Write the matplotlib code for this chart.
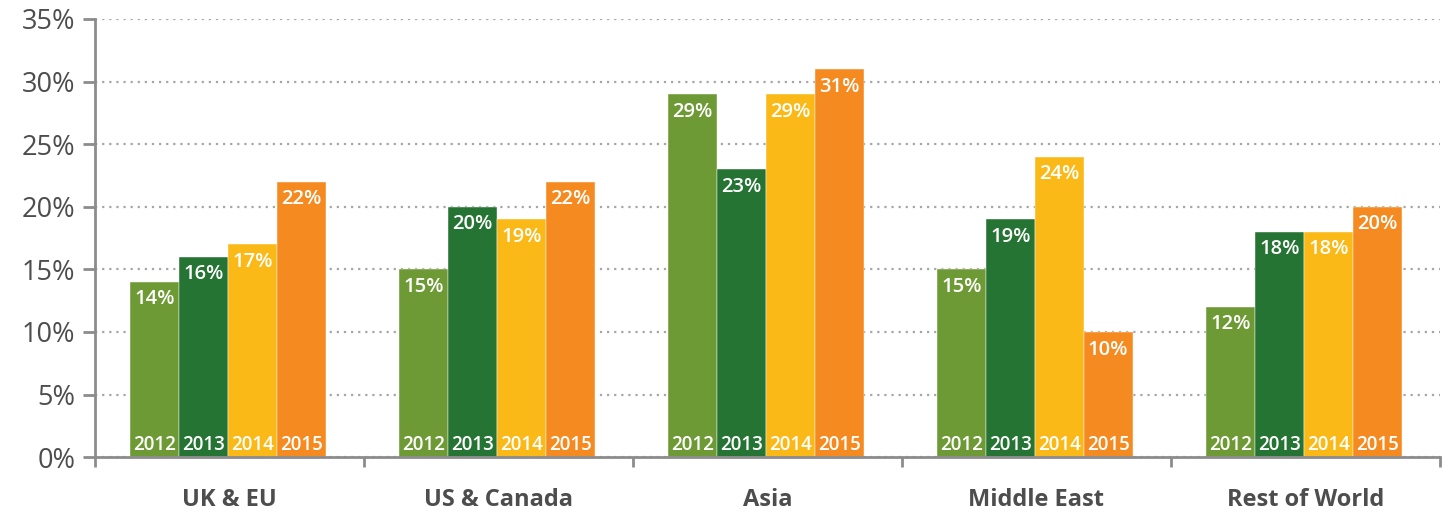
import matplotlib
matplotlib.use("Agg")
import matplotlib.pyplot as plt
import numpy as np

regions = ["UK & EU", "US & Canada", "Asia", "Middle East", "Rest of World"]
years = ["2012", "2013", "2014", "2015"]
share_2012 = [14, 15, 29, 15, 12]
share_2013 = [16, 20, 23, 19, 18]
share_2014 = [17, 19, 29, 24, 18]
share_2015 = [22, 22, 31, 10, 20]
colors = ["#6E9A35", "#267434", "#FBB917", "#F58A21"]

plt.rcParams["font.family"] = ["Open Sans", "DejaVu Sans"]

fig = plt.figure(figsize=(14.5, 5.12), dpi=100)
ax = fig.add_axes([0.0655, 0.107, 0.9275, 0.856])

series = [share_2012, share_2013, share_2014, share_2015]
x = np.arange(len(regions)) + 0.5
width = 0.182
offsets = (np.arange(4) - 1.5) * width - 0.006

for i, (vals, col) in enumerate(zip(series, colors)):
    bars = ax.bar(x + offsets[i], vals, width, color=col, zorder=2,
                  edgecolor="white", linewidth=0.3)
    for b, v in zip(bars, vals):
        cx = b.get_x() + b.get_width() / 2
        ax.text(cx, v - 0.6, f"{v}%", ha="center", va="top", color="white",
                fontsize=14.5, fontweight="semibold", zorder=3)
        ax.text(cx, 0.2, years[i], ha="center", va="bottom", color="white",
                fontsize=13.5, fontweight="semibold", zorder=3)

ax.set_xlim(0, len(regions))
ax.set_ylim(0, 35)
ax.set_yticks(range(0, 36, 5))
ax.set_yticklabels([f"{t}%" for t in range(0, 36, 5)])
ax.yaxis.grid(True, linestyle=(0, (1, 2.2)), color="#A6A6A6", linewidth=1.6, zorder=0)

ax.set_xticks(range(len(regions) + 1))
ax.set_xticklabels([])
ax.set_xticks(x, minor=True)
ax.set_xticklabels(regions, minor=True, fontsize=17, fontweight="bold", color="#4D4D4D")
ax.tick_params(axis="x", which="minor", length=0, pad=22)
ax.tick_params(axis="x", which="major", length=7, width=2, color="#8C8C8C", direction="out")
ax.tick_params(axis="y", length=9, width=2, color="#8C8C8C", labelsize=19.5,
               labelcolor="#4D4D4D", pad=5)

for s in ["top", "right"]:
    ax.spines[s].set_visible(False)
for s in ["left", "bottom"]:
    ax.spines[s].set_color("#8C8C8C")
    ax.spines[s].set_linewidth(2)

fig.savefig("out.png", dpi=100)
